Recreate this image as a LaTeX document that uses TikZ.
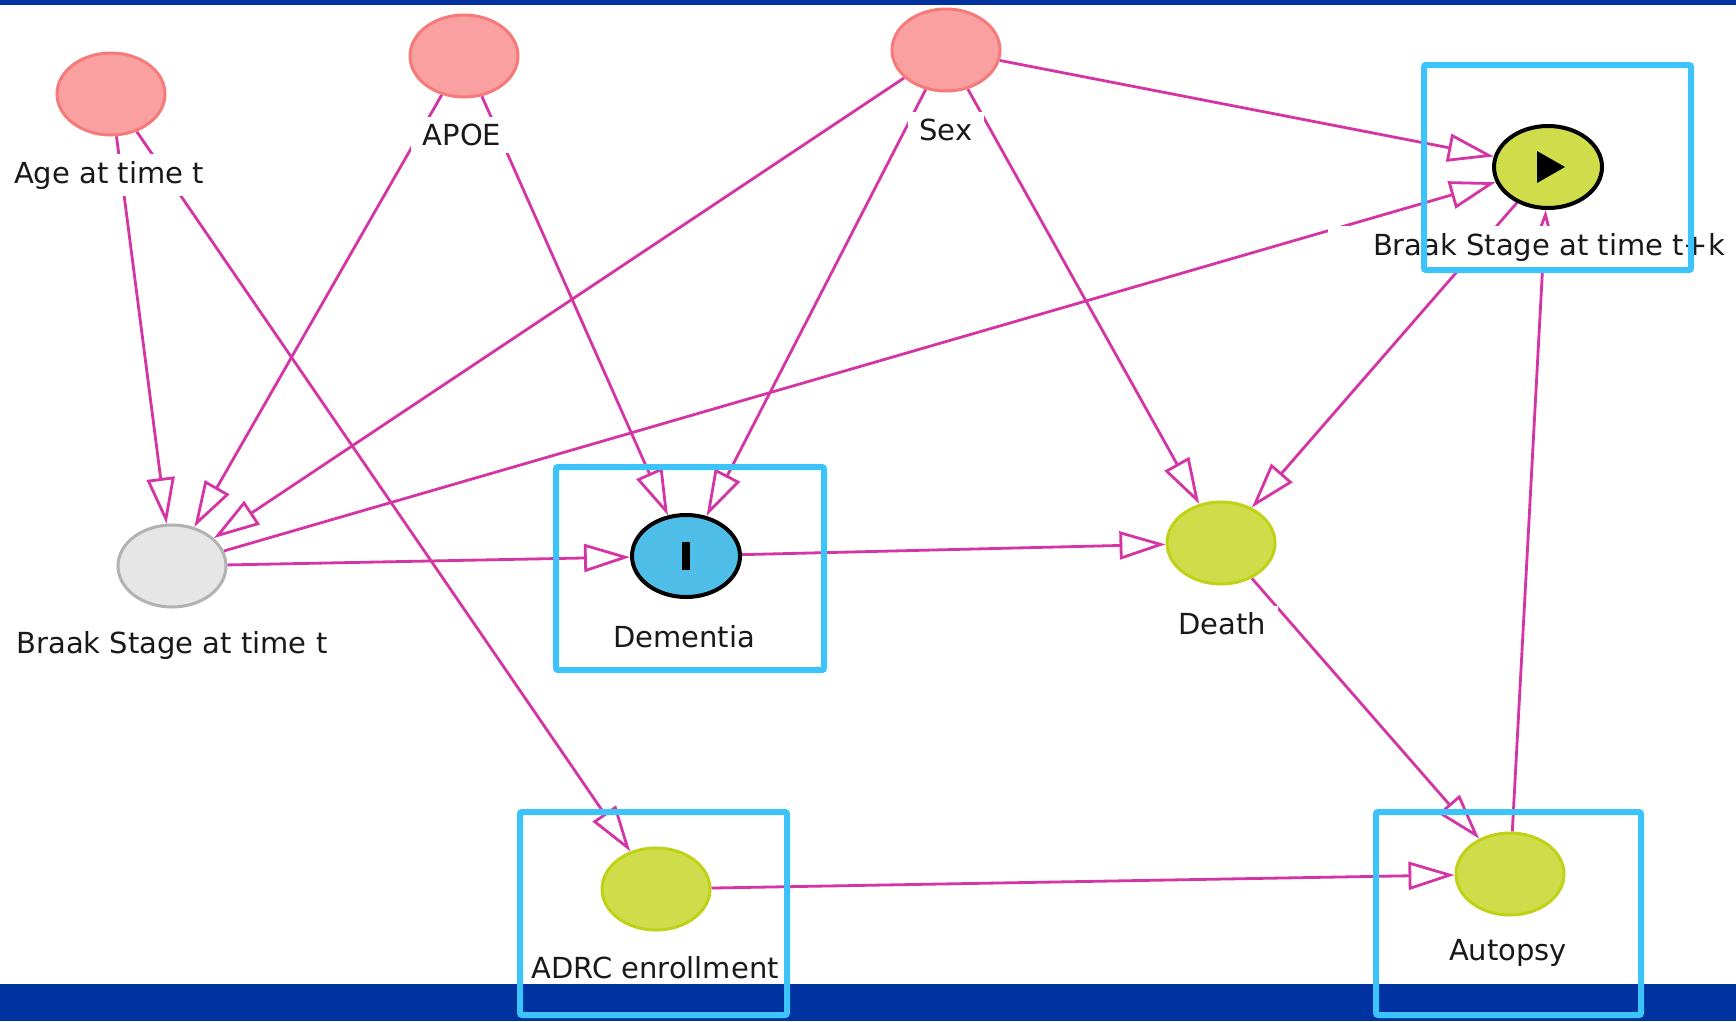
\documentclass[tikz,border=0pt]{standalone}
\usepackage{fontspec}
\setmainfont{DejaVu Sans}
\usetikzlibrary{arrows.meta,shapes.geometric}
\definecolor{edgecol}{RGB}{212,52,164}
\definecolor{pinkfill}{RGB}{250,160,160}
\definecolor{pinkline}{RGB}{246,122,122}
\definecolor{ygfill}{RGB}{207,221,74}
\definecolor{ygline}{RGB}{192,210,24}
\definecolor{bluefill}{RGB}{78,190,232}
\definecolor{greyfill}{RGB}{230,230,230}
\definecolor{greyline}{RGB}{178,178,178}
\definecolor{boxcol}{RGB}{60,195,250}
\definecolor{barcol}{RGB}{0,51,160}
\pgfdeclarelayer{bg}
\pgfdeclarelayer{edges}
\pgfsetlayers{bg,edges,main}
\begin{document}
\begin{tikzpicture}[x=1pt,y=-1pt,
  var/.style={ellipse, minimum width=108pt, minimum height=82pt, inner sep=0pt, line width=3pt},
  pinkv/.style={var, fill=pinkfill, draw=pinkline},
  ygv/.style={var, fill=ygfill, draw=ygline},
  greyv/.style={var, fill=greyfill, draw=greyline},
  outv/.style={var, fill=ygfill, draw=black, line width=4pt},
  expv/.style={var, fill=bluefill, draw=black, line width=4pt},
  lab/.style={fill=white, inner xsep=12pt, inner ysep=7pt, font=\fontsize{29}{34}\selectfont, text=black!90},
  edge/.style={draw=edgecol, line width=2.8pt, -{Triangle[open,fill=white,length=46pt,width=28pt]}},
  hl/.style={draw=boxcol, line width=6pt, rounded corners=2pt},
]
\begin{pgfonlayer}{bg}
\fill[white] (0,0) rectangle (1736,1021);
\end{pgfonlayer}
\useasboundingbox (0,0) rectangle (1736,1021);

% variables
\node[pinkv] (age) at (111,94) {};
\node[pinkv] (apoe) at (464,56) {};
\node[pinkv] (sex) at (946,50) {};
\node[greyv] (bt) at (172,566) {};
\node[expv] (dem) at (686,556) {};
\node[outv] (btk) at (1548,167) {};
\node[ygv] (death) at (1221,543) {};
\node[ygv] (adrc) at (656,889) {};
\node[ygv] (aut) at (1510,874) {};

% symbols
\fill[black] ([shift={(-4,-14)}]dem.center) rectangle ([shift={(4,14)}]dem.center);
\fill[black] ([shift={(-11,-16)}]btk.center) -- ([shift={(17,0)}]btk.center) -- ([shift={(-11,16)}]btk.center) -- cycle;

% labels
\node[lab] (agel) at (109,175) {Age at time t};
\node[lab] (apoel) at (462,135) {APOE};
\node[lab] (sexl) at (946,130) {Sex};
\node[lab, inner xsep=45pt] (btkl) at (1549,247) {Braak Stage at time t+k};
\node[lab] (btl) at (172,645) {Braak Stage at time t};
\node[lab] (deml) at (684,637) {Dementia};
\node[lab] (deathl) at (1222,624) {Death};
\node[lab] (adrcl) at (655,968) {ADRC enrollment};
\node[lab] (autl) at (1508,953) {Autopsy};

% edges
\begin{pgfonlayer}{edges}
\draw[edge] (age) -- (bt);
\draw[edge] (age) -- (adrc);
\draw[edge] (apoe) -- (bt);
\draw[edge] (apoe) -- (dem);
\draw[edge] (sex) -- (bt);
\draw[edge] (sex) -- (dem);
\draw[edge] (sex) -- (death);
\draw[edge] (sex) -- (btk);
\draw[edge] (bt) -- (btk);
\draw[edge] (bt) -- (dem);
\draw[edge] (dem) -- (death);
\draw[edge] (btk) -- (death);
\draw[edge] (death) -- (aut);
\draw[edge] (adrc) -- (aut);
\draw[edge] (aut) -- (btk);
\end{pgfonlayer}

% bars
\fill[barcol] (0,0) rectangle (1736,5);
\fill[barcol] (0,984) rectangle (1736,1021);

% highlight boxes
\draw[hl] (1424,65) rectangle (1691,270);
\draw[hl] (556,467) rectangle (824,670);
\draw[hl] (520,812) rectangle (787,1015);
\draw[hl] (1376,812) rectangle (1641,1015);
\end{tikzpicture}
\end{document}
